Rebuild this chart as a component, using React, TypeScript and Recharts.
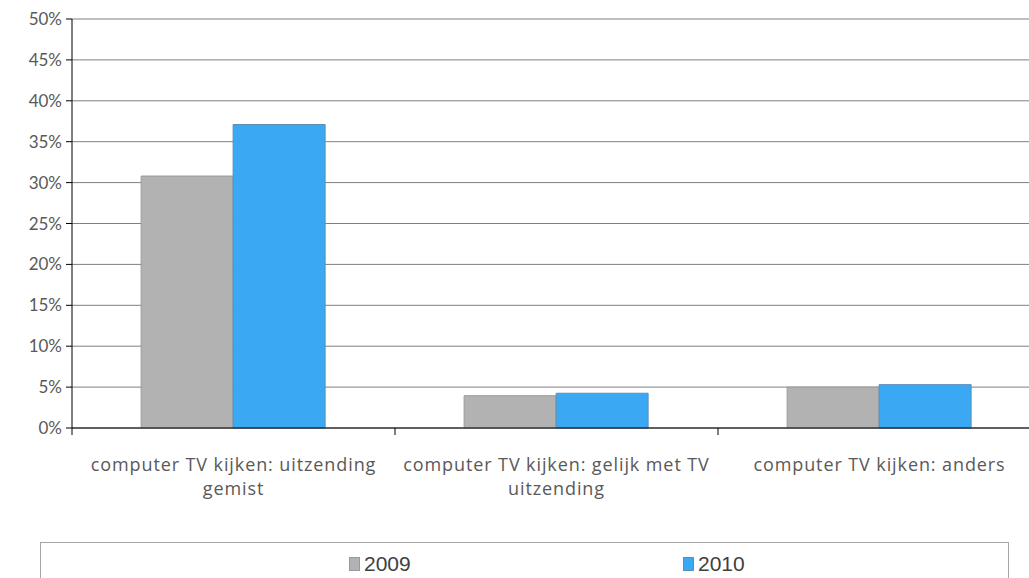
import React from 'react';
import { BarChart, Bar, XAxis, YAxis, CartesianGrid, Legend } from 'recharts';

const categories = [
  'computer TV kijken: uitzending\ngemist',
  'computer TV kijken: gelijk met TV\nuitzending',
  'computer TV kijken: anders',
];
const values2009 = [30.8, 3.95, 5.0];
const values2010 = [37.1, 4.25, 5.3];
const yTicks = [0, 5, 10, 15, 20, 25, 30, 35, 40, 45, 50];

const series = [
  { key: 'y2009', name: '2009', fill: '#b2b2b2', stroke: '#9a9a9a' },
  { key: 'y2010', name: '2010', fill: '#3aa8f2', stroke: '#5a8fb8' },
];

const data = categories.map((c, i) => ({
  category: c,
  y2009: values2009[i],
  y2010: values2010[i],
}));

const FONT = 'Lato, "Open Sans", sans-serif';
const LABEL_FONT = '"Open Sans", Lato, sans-serif';

const CategoryTick = (props: any) => {
  const { x, y, payload, index } = props;
  const lines: string[] = String(payload.value).split('\n');
  const half = payload.offset || 0;
  return (
    <g>
      <line x1={x - half} y1={y - 8} x2={x - half} y2={y - 1} stroke="#000" />
      {index === categories.length - 1 && (
        <line x1={x + half} y1={y - 8} x2={x + half} y2={y - 1} stroke="#000" />
      )}
      {lines.map((l, i) => (
        <text
          key={i}
          x={x}
          y={y + 35 + i * 24}
          textAnchor="middle"
          fill="#595959"
          fontSize={18}
          letterSpacing={0.9}
          fontFamily={LABEL_FONT}
        >
          {l}
        </text>
      ))}
    </g>
  );
};

const LegendBox = () => (
  <div
    style={{
      boxSizing: 'border-box',
      width: 969,
      height: 50,
      border: '1px solid #a6a6a6',
      position: 'relative',
      fontFamily: '"Liberation Sans Narrow", "Liberation Sans", sans-serif',
      fontSize: 21,
      color: '#404040',
    }}
  >
    {series.map((s, i) => (
      <div
        key={s.key}
        style={{
          position: 'absolute',
          left: i === 0 ? 308 : 642,
          top: 9,
          display: 'flex',
          alignItems: 'center',
        }}
      >
        <span
          style={{
            display: 'inline-block',
            width: 9,
            height: 12,
            background: s.fill,
            border: `1px solid ${s.stroke}`,
            marginRight: 4,
          }}
        />
        <span>{s.name}</span>
      </div>
    ))}
  </div>
);

export default function App() {
  return (
    <div style={{ position: 'absolute', left: 0, top: 0, width: 1029, height: 578, overflow: 'hidden', background: '#fff' }}>
      <BarChart
        width={1041}
        height={578}
        data={data}
        margin={{ top: 19, right: 0, left: 12, bottom: 0 }}
        barCategoryGap="21.4%"
        barGap={0}
      >
        <CartesianGrid horizontal vertical={false} stroke="#7f7f7f" strokeWidth={1} />
        <XAxis
          dataKey="category"
          interval={0}
          height={150}
          axisLine={{ stroke: '#000' }}
          tickLine={false}
          tick={<CategoryTick />}
        />
        <YAxis
          domain={[0, 50]}
          ticks={yTicks}
          width={60}
          interval={0}
          axisLine={{ stroke: '#000' }}
          tickLine={{ stroke: '#000' }}
          tickSize={6}
          tickMargin={4}
          tickFormatter={(v) => `${v}%`}
          tick={{ fill: '#595959', fontSize: 17, fontFamily: FONT }}
        />
        {series.map((s) => (
          <Bar
            key={s.key}
            dataKey={s.key}
            name={s.name}
            fill={s.fill}
            stroke={s.stroke}
            strokeWidth={1}
            isAnimationActive={false}
          />
        ))}
        <Legend
          layout="vertical"
          verticalAlign="middle"
          align="center"
          content={<LegendBox />}
          wrapperStyle={{ left: 40, top: 542, width: 969, height: 50 }}
        />
      </BarChart>
    </div>
  );
}
